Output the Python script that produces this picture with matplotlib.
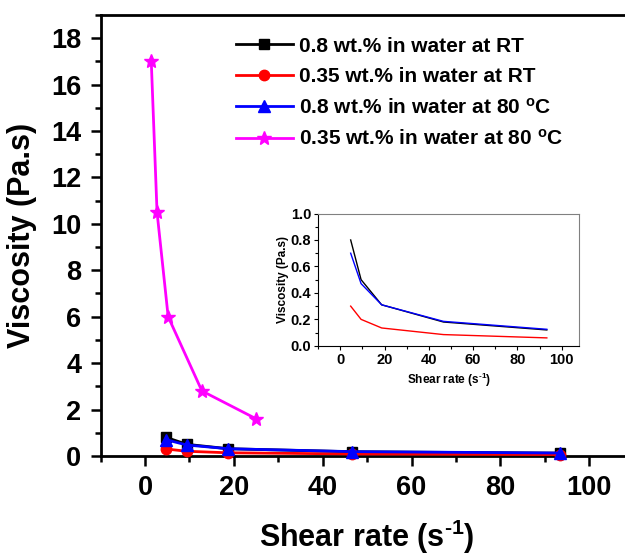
import matplotlib
matplotlib.use("Agg")
import matplotlib.pyplot as plt
from matplotlib.ticker import MultipleLocator

plt.rcParams['font.family'] = ['Liberation Sans', 'DejaVu Sans']
plt.rcParams['font.weight'] = 'bold'
plt.rcParams['mathtext.fontset'] = 'custom'
plt.rcParams['mathtext.rm'] = 'Liberation Sans:bold'
plt.rcParams['mathtext.bf'] = 'Liberation Sans:bold'
plt.rcParams['mathtext.it'] = 'Liberation Sans:bold'
plt.rcParams['mathtext.default'] = 'rm'

# data
shear = [4.7, 9.4, 18.7, 46.6, 93.3]
visc_08_rt = [0.80, 0.50, 0.31, 0.18, 0.12]
visc_035_rt = [0.30, 0.20, 0.135, 0.085, 0.06]
visc_08_80 = [0.70, 0.47, 0.31, 0.185, 0.125]
shear_035_80 = [1.4, 2.7, 5.2, 12.8, 25.0]
visc_035_80 = [17.0, 10.5, 6.0, 2.8, 1.6]

labels = ["0.8 wt.% in water at RT",
          "0.35 wt.% in water at RT",
          r"0.8 wt.% in water at 80 $^{\rm o}$C",
          r"0.35 wt.% in water at 80 $^{\rm o}$C"]
xlab = r"Shear rate (s$^{\text{-}1}$)"

fig = plt.figure(figsize=(6.25, 5.56), dpi=100)

# main axes (right side runs off the figure like in the original)
ax = fig.add_axes([0.161, 0.180, 0.853, 0.793])
ax.plot(shear, visc_08_rt, color="black", marker="s", ms=7, lw=2, label=labels[0], clip_on=False, zorder=3)
ax.plot(shear, visc_035_rt, color="red", marker="o", ms=7.5, lw=2, label=labels[1], clip_on=False, zorder=3)
ax.plot(shear, visc_08_80, color="blue", marker="^", ms=8, lw=2, label=labels[2], clip_on=False, zorder=4)
ax.plot(shear_035_80, visc_035_80, color="magenta", marker="*", ms=10, lw=2, label=labels[3], clip_on=False, zorder=3)

ax.set_xlim(-10, 110)
ax.set_ylim(0, 19)
ax.xaxis.set_major_locator(MultipleLocator(20))
ax.xaxis.set_minor_locator(MultipleLocator(10))
ax.yaxis.set_major_locator(MultipleLocator(2))
ax.yaxis.set_minor_locator(MultipleLocator(1))
ax.tick_params(which="major", direction="out", length=7, width=1.8, labelsize=19.5, pad=7)
ax.tick_params(which="minor", direction="out", length=4.5, width=1.8)
for s in ax.spines.values():
    s.set_linewidth(2)
ax.set_xlabel(xlab, fontsize=22, fontweight="bold", labelpad=12)
ax.set_ylabel("Viscosity (Pa.s)", fontsize=22, fontweight="bold", labelpad=10)

ax.legend(loc="upper left", bbox_to_anchor=(0.378, 0.934), bbox_transform=fig.transFigure,
          frameon=False, fontsize=15, handlelength=2.7, handletextpad=0.3, labelspacing=0.55,
          borderaxespad=0, borderpad=0)

# inset
ins = fig.add_axes([0.509, 0.378, 0.418, 0.238])
ins.plot(shear, visc_08_rt, color="black", lw=1)
ins.plot(shear, visc_035_rt, color="red", lw=1)
ins.plot(shear, visc_08_80, color="blue", lw=1)
ins.set_xlim(-10, 108)
ins.set_ylim(0, 1.0)
ins.xaxis.set_major_locator(MultipleLocator(20))
ins.xaxis.set_minor_locator(MultipleLocator(10))
ins.yaxis.set_major_locator(MultipleLocator(0.2))
ins.yaxis.set_minor_locator(MultipleLocator(0.1))
ins.tick_params(which="major", direction="out", length=3, width=0.8, labelsize=10.5, pad=2)
ins.tick_params(which="minor", direction="out", length=2, width=0.8)
ins.set_yticklabels([f"{v:.1f}" for v in ins.get_yticks()])
for side in ["top", "right"]:
    ins.spines[side].set_color("#808080")
for s in ins.spines.values():
    s.set_linewidth(0.8)
ins.set_xlabel(xlab, fontsize=8.5, fontweight="bold", labelpad=3)
ins.set_ylabel("Viscosity (Pa.s)", fontsize=8.5, fontweight="bold", labelpad=1)

fig.savefig("out.png", dpi=100)
